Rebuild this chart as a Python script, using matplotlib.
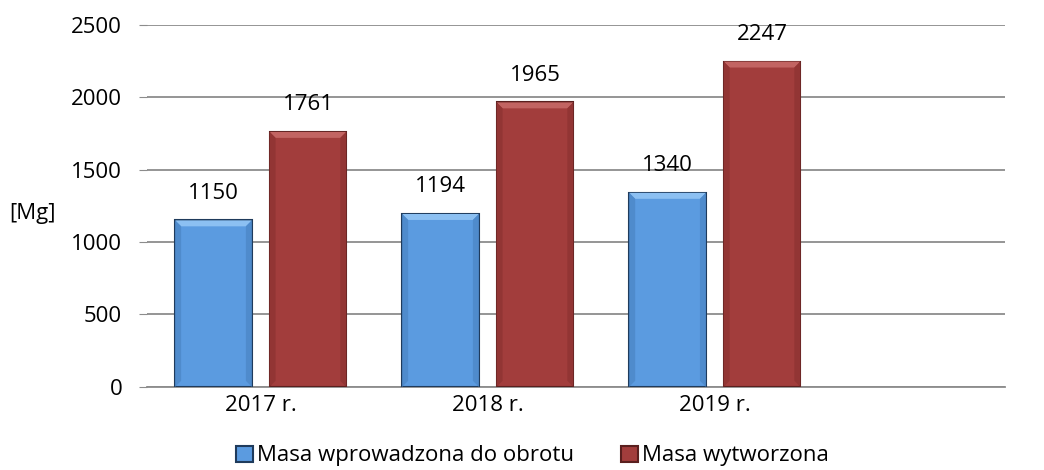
import numpy as np
import matplotlib
matplotlib.use('Agg')
import matplotlib.pyplot as plt
from matplotlib.patches import Polygon

years = ['2017 r.', '2018 r.', '2019 r.']
masa_obrot = [1150, 1194, 1340]
masa_wytw = [1761, 1965, 2247]
series_names = ['Masa wprowadzona do obrotu', 'Masa wytworzona']
y_ticks = [0, 500, 1000, 1500, 2000, 2500]

plt.rcParams['font.family'] = ['Open Sans', 'DejaVu Sans']
fs = 16

fig = plt.figure(figsize=(10.44, 4.70), dpi=100)
ax = fig.add_axes([0.141, 0.177, 0.822, 0.770])

x = np.arange(len(years))
w = 0.338
off = 0.208

b1 = ax.bar(x - off, masa_obrot, w, color='#5B9BE0', edgecolor='#1F3B5C',
            linewidth=1.5, label=series_names[0], zorder=3)
b2 = ax.bar(x + off, masa_wytw, w, color='#A23D3C', edgecolor='#5A1F1E',
            linewidth=1.5, label=series_names[1], zorder=3)

ax.set_xlim(-0.5, 3.28)
ax.set_ylim(0, 2500)

# small bevel: light strip on top, darker strips on the sides
px_x = (3.28 + 0.5) / (0.822 * 1044)
px_y = 2500 / (0.770 * 470)
bev = 6
for bars, light, dark in ((b1, '#8CC0F2', '#4F8BCC'), (b2, '#C26462', '#923534')):
    for r in bars:
        x0, x1 = r.get_x(), r.get_x() + r.get_width()
        y1 = r.get_height()
        dx, dy = bev * px_x, bev * px_y
        ax.add_patch(Polygon([(x0, y1), (x1, y1), (x1 - dx, y1 - dy), (x0 + dx, y1 - dy)],
                             closed=True, facecolor=light, edgecolor='none', zorder=4))
        ax.add_patch(Polygon([(x0, 0), (x0 + dx, dy), (x0 + dx, y1 - dy), (x0, y1)],
                             closed=True, facecolor=dark, edgecolor='none', zorder=4))
        ax.add_patch(Polygon([(x1, 0), (x1 - dx, dy), (x1 - dx, y1 - dy), (x1, y1)],
                             closed=True, facecolor=dark, edgecolor='none', zorder=4))

# value labels above the bars
for bars in (b1, b2):
    for r in bars:
        ax.annotate(str(int(r.get_height())), (r.get_x() + r.get_width() / 2, r.get_height()),
                    xytext=(0, 12), textcoords='offset points', ha='center', va='bottom',
                    fontsize=fs, color='#000000')

ax.set_yticks(y_ticks)
ax.set_xticks(x)
ax.set_xticklabels(years, fontsize=fs)
ax.tick_params(axis='y', labelsize=fs, length=6, color='#8C8C8C', pad=12)
ax.tick_params(axis='x', length=0, pad=6)
ax.yaxis.grid(True, color='#8C8C8C', linewidth=1.3, zorder=0)
for s in ['top', 'right', 'left']:
    ax.spines[s].set_visible(False)
ax.spines['bottom'].set_color('#8C8C8C')
ax.spines['bottom'].set_linewidth(1.3)

ax.set_ylabel('[Mg]', rotation=0, fontsize=fs, va='center', ha='left')
ax.yaxis.set_label_coords(-0.161, 0.48)

fig.legend(loc='lower center', bbox_to_anchor=(0.51, -0.035), ncol=2, frameon=False,
           fontsize=fs, handlelength=0.75, handleheight=0.75, handletextpad=0.2,
           columnspacing=2.1)

fig.savefig('out.png', dpi=100)
